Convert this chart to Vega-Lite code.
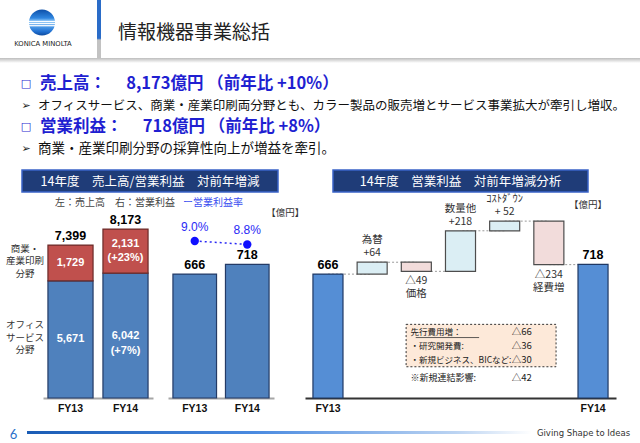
{
  "$schema": "https://vega.github.io/schema/vega-lite/v6.json",
  "padding": 0,
  "autosize": {"type": "pad"},
  "background": "white",
  "config": {"view": {"stroke": null}, "font": "Noto Sans CJK JP"},
  "datasets": {
    "brand": [{"name": "KONICA MINOLTA"}],
    "slide": [{"title": "情報機器事業総括"}],
    "bullets": [
      {"line": 1, "kind": "head", "marker": "□", "text": "売上高：　 8,173億円 （前年比 +10%）"},
      {"line": 2, "kind": "body", "marker": "➢", "text": "オフィスサービス、商業・産業印刷両分野とも、カラー製品の販売増とサービス事業拡大が牽引し増収。"},
      {"line": 3, "kind": "head", "marker": "□", "text": "営業利益：　 718億円 （前年比 +8%）"},
      {"line": 4, "kind": "body", "marker": "➢", "text": "商業・産業印刷分野の採算性向上が増益を牽引。"}
    ],
    "panels": [
      {"panel": "left", "title": "14年度　売上高/営業利益　対前年増減"},
      {"panel": "right", "title": "14年度　営業利益　対前年増減分析"}
    ],
    "captions": [
      {"part": "main", "text": "左：売上高　右：営業利益"},
      {"part": "accent", "text": "ー営業利益率"}
    ],
    "unitLabel": [{"text": "【億円】"}],
    "sales": [
      {"fy": "FY13", "segment": "オフィスサービス分野", "value": 5671, "label": "5,671", "side": "オフィス\nサービス\n分野"},
      {"fy": "FY13", "segment": "商業・産業印刷分野", "value": 1729, "label": "1,729", "side": "商業・\n産業印刷\n分野"},
      {"fy": "FY14", "segment": "オフィスサービス分野", "value": 6042, "label": "6,042\n(+7%)"},
      {"fy": "FY14", "segment": "商業・産業印刷分野", "value": 2131, "label": "2,131\n(+23%)"}
    ],
    "salesTotal": [{"fy": "FY13", "total": 7399}, {"fy": "FY14", "total": 8173}],
    "oi": [{"fy": "FY13", "oi": 666, "margin": 0.09}, {"fy": "FY14", "oi": 718, "margin": 0.088}],
    "bridge": [
      {"item": "FY13", "start": 0, "end": 666, "type": "total", "label": "666"},
      {"item": "為替", "start": 666, "end": 730, "type": "up", "label": "為替\n+64"},
      {"item": "価格", "start": 730, "end": 681, "type": "down", "label": "△49\n価格"},
      {"item": "数量他", "start": 681, "end": 899, "type": "up", "label": "数量他\n+218"},
      {"item": "コストダウン", "start": 899, "end": 951, "type": "up", "label": "ｺｽﾄﾀﾞｳﾝ\n+ 52"},
      {"item": "経費増", "start": 951, "end": 717, "type": "down", "label": "△234\n経費増"},
      {"item": "FY14", "start": 0, "end": 718, "type": "total", "label": "718"}
    ],
    "notes": [{"left": "　先行費用増：\n・研究開発費:\n・新規ビジネス、BICなど:", "right": "△66\n△36\n△30"}],
    "footnote": [{"left": "※新規連結影響:", "right": "△42"}],
    "page": [{"num": "6"}],
    "tag": [{"text": "Giving Shape to Ideas"}]
  },
  "bounds": "flush",
  "spacing": 0,
  "resolve": {"scale": {"color": "independent", "fill": "independent", "stroke": "independent"}},
  "vconcat": [
    {
      "spacing": 0,
      "bounds": "flush",
      "hconcat": [
        {
          "width": 97, "height": 58,
          "data": {"name": "brand"},
          "layer": [
            {
              "mark": {"type": "point", "shape": "circle", "filled": true, "size": 680, "opacity": 1, "strokeWidth": 0, "xOffset": -6.5, "yOffset": -6.5,
                "fill": {"gradient": "linear", "x1": 0, "y1": 0, "x2": 0, "y2": 1, "stops": [
                  {"offset": 0, "color": "#0d4fa8"}, {"offset": 0.33, "color": "#2f86e0"}, {"offset": 0.42, "color": "#7cbaf2"},
                  {"offset": 0.46, "color": "#ffffff"}, {"offset": 0.5, "color": "#8cc4f4"}, {"offset": 0.54, "color": "#ffffff"},
                  {"offset": 0.58, "color": "#6fb0ee"}, {"offset": 0.62, "color": "#ffffff"}, {"offset": 0.67, "color": "#4a98e6"},
                  {"offset": 0.85, "color": "#1f6fd0"}, {"offset": 1, "color": "#0d4a9e"}]}},
              "encoding": {}
            },
            {
              "mark": {"type": "text", "font": "DejaVu Sans", "fontSize": 6.8, "color": "#222", "dx": -5.5, "dy": 15},
              "encoding": {"text": {"field": "name"}}
            }
          ]
        },
        {
          "width": 4, "height": 58,
          "data": {"name": "brand"},
          "mark": {"type": "rect", "fill": {"gradient": "linear", "x1": 0, "y1": 0, "x2": 0, "y2": 1, "stops": [
            {"offset": 0, "color": "#2a6cc8"}, {"offset": 0.66, "color": "#2a6cc8"}, {"offset": 0.69, "color": "#c2c2c2"}, {"offset": 1, "color": "#c2c2c2"}]}},
          "encoding": {}
        },
        {
          "width": 34, "height": 58,
          "data": {"name": "slide"},
          "mark": {"type": "text", "align": "left", "baseline": "middle", "fontSize": 19, "color": "#222", "dy": 4},
          "encoding": {"text": {"field": "title"}}
        }
      ]
    },
    {"width": 1, "height": 58, "data": {"values": []}, "mark": "point", "encoding": {}},
    {
      "width": 640, "height": 5,
      "data": {"name": "brand"},
      "mark": {"type": "rect", "fill": {"gradient": "linear", "x1": 0, "y1": 0, "x2": 0, "y2": 1, "stops": [{"offset": 0, "color": "#bdbdbd"}, {"offset": 1, "color": "#ffffff"}]}},
      "encoding": {}
    },
    {
      "width": 640, "height": 107,
      "data": {"name": "bullets"},
      "encoding": {"y": {"field": "line", "type": "ordinal", "scale": {"type": "point", "domain": [1, 2, 3, 4], "padding": 1.36}, "axis": null}},
      "layer": [
        {
          "mark": {"type": "text", "font": "DejaVu Sans", "fontSize": 11, "dx": -294, "baseline": "middle"},
          "encoding": {"text": {"field": "marker"}, "color": {"field": "kind", "type": "nominal", "scale": {"domain": ["head", "body"], "range": ["#1f1fd1", "#222222"]}, "legend": null}}
        },
        {
          "transform": [{"filter": "datum.kind == 'head'"}],
          "mark": {"type": "text", "align": "left", "baseline": "middle", "dx": -280, "fontSize": 16.5, "fontWeight": "bold", "color": "#1f1fd1"},
          "encoding": {"text": {"field": "text"}}
        },
        {
          "transform": [{"filter": "datum.line == 2"}],
          "mark": {"type": "text", "align": "left", "baseline": "middle", "dx": -282, "fontSize": 12.5, "color": "#111"},
          "encoding": {"text": {"field": "text"}}
        },
        {
          "transform": [{"filter": "datum.line == 4"}],
          "mark": {"type": "text", "align": "left", "baseline": "middle", "dx": -282, "fontSize": 13.5, "color": "#111"},
          "encoding": {"text": {"field": "text"}}
        }
      ]
    },
    {
      "spacing": 0,
      "bounds": "flush",
      "hconcat": [
        {"width": 22, "height": 22, "data": {"values": []}, "mark": "point", "encoding": {}},
        {
          "width": 256, "height": 22,
          "view": {"fill": "#1f3c78", "stroke": "#3a63c8", "strokeWidth": 1.5},
          "data": {"name": "panels"},
          "transform": [{"filter": "datum.panel == 'left'"}],
          "mark": {"type": "text", "color": "white", "fontSize": 12.5, "dy": 0.5},
          "encoding": {"text": {"field": "title"}}
        },
        {"width": 55, "height": 22, "data": {"values": []}, "mark": "point", "encoding": {}},
        {
          "width": 255, "height": 22,
          "view": {"fill": "#1f3c78", "stroke": "#3a63c8", "strokeWidth": 1.5},
          "data": {"name": "panels"},
          "transform": [{"filter": "datum.panel == 'right'"}],
          "mark": {"type": "text", "color": "white", "fontSize": 12.5, "dy": 0.5},
          "encoding": {"text": {"field": "title"}}
        }
      ]
    },
    {"width": 1, "height": 22, "data": {"values": []}, "mark": "point", "encoding": {}},
    {
      "width": 300, "height": 20,
      "data": {"name": "captions"},
      "layer": [
        {
          "transform": [{"filter": "datum.part == 'main'"}],
          "mark": {"type": "text", "align": "right", "dx": 25, "dy": 1, "fontSize": 10, "color": "#444"},
          "encoding": {"text": {"field": "text"}}
        },
        {
          "transform": [{"filter": "datum.part == 'accent'"}],
          "mark": {"type": "text", "align": "left", "dx": 33, "dy": 1, "fontSize": 10, "color": "#3b4ef0"},
          "encoding": {"text": {"field": "text"}}
        }
      ]
    },
    {
      "spacing": 0,
      "bounds": "flush",
      "resolve": {"scale": {"color": "independent", "fill": "independent", "stroke": "independent"}},
      "hconcat": [
        {"width": 43, "height": 186, "data": {"values": []}, "mark": "point", "encoding": {}},
        {
          "width": 110, "height": 186,
          "data": {"name": "sales"},
          "encoding": {"x": {"field": "fy", "type": "nominal", "scale": {"paddingInner": 0.18, "paddingOuter": 0.09},
            "axis": {"title": null, "ticks": false, "grid": false, "labelAngle": 0, "domainColor": "#a6a6a6", "domainWidth": 2, "labelFont": "Liberation Sans", "labelFontWeight": "bold", "labelFontSize": 10.5, "labelColor": "#111", "labelPadding": 5}}},
          "layer": [
            {
              "mark": {"type": "bar", "strokeWidth": 1.2},
              "encoding": {
                "y": {"field": "value", "type": "quantitative", "stack": "zero", "scale": {"domain": [0, 8890]}, "axis": null},
                "color": {"field": "segment", "type": "nominal", "scale": {"domain": ["オフィスサービス分野", "商業・産業印刷分野"], "range": ["#4f81bd", "#c0504d"]}, "legend": null},
                "stroke": {"field": "segment", "type": "nominal", "scale": {"domain": ["オフィスサービス分野", "商業・産業印刷分野"], "range": ["#243b66", "#6b2a28"]}, "legend": null},
                "order": {"field": "segment", "sort": "ascending"}
              }
            },
            {
              "transform": [{"filter": "!(datum.fy == 'FY14' && datum.segment == '商業・産業印刷分野')"}],
              "mark": {"type": "text", "color": "white", "fontWeight": "bold", "fontSize": 11, "font": "Liberation Sans", "lineBreak": "\n", "lineHeight": 15, "baseline": "middle"},
              "encoding": {
                "y": {"field": "value", "type": "quantitative", "stack": "zero", "bandPosition": 0.5},
                "detail": {"field": "segment"},
                "order": {"field": "segment", "sort": "ascending"},
                "text": {"field": "label"}
              }
            },
            {
              "transform": [
                {"stack": "value", "groupby": ["fy"], "sort": [{"field": "segment", "order": "ascending"}], "as": ["v0", "v1"]},
                {"filter": "datum.fy == 'FY14' && datum.segment == '商業・産業印刷分野'"}
              ],
              "mark": {"type": "text", "color": "white", "fontWeight": "bold", "fontSize": 11, "font": "Liberation Sans", "lineBreak": "\n", "lineHeight": 14, "baseline": "middle", "dy": 15},
              "encoding": {
                "y": {"field": "v1", "type": "quantitative"},
                "text": {"field": "label"}
              }
            },
            {
              "transform": [{"filter": "datum.fy == 'FY13'"}],
              "mark": {"type": "text", "dx": -45.5, "dy": -14, "fontSize": 9.5, "color": "#333", "lineBreak": "\n", "lineHeight": 12.5, "baseline": "middle"},
              "encoding": {
                "y": {"field": "value", "type": "quantitative", "stack": "zero", "bandPosition": 0.5},
                "detail": {"field": "segment"},
                "order": {"field": "segment", "sort": "ascending"},
                "text": {"field": "side"}
              }
            },
            {
              "data": {"name": "salesTotal"},
              "mark": {"type": "text", "baseline": "bottom", "dy": -2, "fontWeight": "bold", "fontSize": 12.5, "font": "Liberation Sans", "color": "#000"},
              "encoding": {
                "y": {"field": "total", "type": "quantitative"},
                "text": {"field": "total", "type": "quantitative", "format": ","}
              }
            }
          ]
        },
        {"width": 15, "height": 186, "data": {"values": []}, "mark": "point", "encoding": {}},
        {
          "width": 106, "height": 186,
          "data": {"name": "oi"},
          "encoding": {"x": {"field": "fy", "type": "nominal", "scale": {"paddingInner": 0.17, "paddingOuter": 0.094},
            "axis": {"title": null, "ticks": false, "grid": false, "labelAngle": 0, "domainColor": "#a6a6a6", "domainWidth": 2, "labelFont": "Liberation Sans", "labelFontWeight": "bold", "labelFontSize": 10.5, "labelColor": "#111", "labelPadding": 5}}},
          "layer": [
            {
              "mark": {"type": "bar", "color": "#4f81bd", "stroke": "#243b66", "strokeWidth": 1.2},
              "encoding": {"y": {"field": "oi", "type": "quantitative", "scale": {"domain": [0, 1000]}, "axis": null}}
            },
            {
              "mark": {"type": "text", "baseline": "bottom", "dy": -2, "fontWeight": "bold", "fontSize": 12.5, "font": "Liberation Sans", "color": "#000"},
              "encoding": {"y": {"field": "oi", "type": "quantitative", "scale": {"domain": [0, 1000]}, "axis": null}, "text": {"field": "oi", "type": "quantitative", "format": "d"}}
            },
            {
              "mark": {"type": "line", "color": "#2a2af5", "strokeDash": [2, 3], "strokeWidth": 1.5},
              "encoding": {"y": {"field": "margin", "type": "quantitative", "scale": {"domain": [0, 0.1066]}, "axis": null}}
            },
            {
              "mark": {"type": "point", "filled": true, "size": 70, "color": "#1010ff", "opacity": 1},
              "encoding": {"y": {"field": "margin", "type": "quantitative", "scale": {"domain": [0, 0.1066]}, "axis": null}}
            },
            {
              "mark": {"type": "text", "baseline": "bottom", "dy": -7, "fontSize": 12, "font": "Liberation Sans", "color": "#2a2af5"},
              "encoding": {"y": {"field": "margin", "type": "quantitative", "scale": {"domain": [0, 0.1066]}, "axis": null}, "text": {"field": "margin", "type": "quantitative", "format": ".1%"}}
            },
            {
              "data": {"name": "unitLabel"},
              "mark": {"type": "text", "baseline": "middle", "dx": 38, "fontSize": 9.5, "color": "#333"},
              "encoding": {
                "x": {"datum": "FY14"},
                "y": {"datum": 995, "type": "quantitative", "scale": {"domain": [0, 1000]}, "axis": null},
                "text": {"field": "text"}
              }
            }
          ],
          "resolve": {"scale": {"y": "independent"}}
        },
        {"width": 31, "height": 186, "data": {"values": []}, "mark": "point", "encoding": {}},
        {
          "width": 311, "height": 186,
          "data": {"name": "bridge"},
          "encoding": {"x": {"field": "item", "type": "nominal",
            "scale": {"domain": ["FY13", "為替", "価格", "数量他", "コストダウン", "経費増", "FY14"], "paddingInner": 0.32, "paddingOuter": 0.18},
            "axis": {"title": null, "ticks": false, "grid": false, "labelAngle": 0, "domainColor": "#333", "domainWidth": 2, "labelFont": "Liberation Sans", "labelFontWeight": "bold", "labelFontSize": 10.5, "labelColor": "#111", "labelPadding": 5,
              "labelExpr": "datum.value == 'FY13' || datum.value == 'FY14' ? datum.value : ''"}}},
          "layer": [
            {
              "mark": {"type": "line", "interpolate": "step-after", "color": "#999", "strokeDash": [2, 2], "strokeWidth": 1},
              "encoding": {"y": {"field": "end", "type": "quantitative", "scale": {"domain": [0, 1000]}, "axis": null}, "order": {"value": null}}
            },
            {
              "mark": {"type": "bar", "strokeWidth": 1.2},
              "encoding": {
                "y": {"field": "start", "type": "quantitative"},
                "y2": {"field": "end"},
                "fill": {"field": "type", "type": "nominal", "scale": {"domain": ["total", "up", "down"], "range": ["#558ed5", "#dbeef4", "#f2dcdb"]}, "legend": null},
                "stroke": {"field": "type", "type": "nominal", "scale": {"domain": ["total", "up", "down"], "range": ["#1f3864", "#4d4d4d", "#4d4d4d"]}, "legend": null}
              }
            },
            {
              "transform": [{"filter": "datum.type == 'total'"}],
              "mark": {"type": "text", "baseline": "bottom", "dy": -2, "fontWeight": "bold", "fontSize": 12.5, "font": "Liberation Sans", "color": "#000"},
              "encoding": {"y": {"field": "end", "type": "quantitative"}, "text": {"field": "label"}}
            },
            {
              "transform": [{"filter": "datum.type == 'up'"}],
              "mark": {"type": "text", "baseline": "bottom", "dy": -17, "fontSize": 10.5, "color": "#333", "lineBreak": "\n", "lineHeight": 13},
              "encoding": {"y": {"field": "end", "type": "quantitative"}, "text": {"field": "label"}}
            },
            {
              "transform": [{"filter": "datum.type == 'down'"}],
              "mark": {"type": "text", "baseline": "top", "dy": 5, "fontSize": 10.5, "color": "#333", "lineBreak": "\n", "lineHeight": 13},
              "encoding": {"y": {"field": "end", "type": "quantitative"}, "text": {"field": "label"}}
            },
            {
              "data": {"name": "unitLabel"},
              "mark": {"type": "text", "baseline": "middle", "dx": -5, "fontSize": 9.5, "color": "#333"},
              "encoding": {"x": {"datum": "FY14"}, "y": {"datum": 1037}, "text": {"field": "text"}}
            },
            {
              "data": {"name": "notes"},
              "mark": {"type": "rect", "fill": "#fde9d9", "stroke": "#333", "strokeDash": [2, 2], "strokeWidth": 1},
              "encoding": {
                "x": {"datum": "価格", "bandPosition": 0.16},
                "x2": {"datum": "経費増", "bandPosition": 0.74},
                "y": {"datum": 396},
                "y2": {"datum": 168}
              }
            },
            {
              "data": {"name": "notes"},
              "mark": {"type": "rule", "color": "#333", "strokeWidth": 0.8},
              "encoding": {
                "x": {"datum": "価格", "bandPosition": 0.48},
                "x2": {"datum": "数量他", "bandPosition": 1.12},
                "y": {"datum": 325}
              }
            },
            {
              "data": {"name": "notes"},
              "mark": {"type": "text", "align": "left", "baseline": "middle", "fontSize": 8.5, "color": "#222", "lineBreak": "\n", "lineHeight": 13.8},
              "encoding": {"x": {"datum": "価格", "bandPosition": 0.31}, "y": {"datum": 353}, "text": {"field": "left"}}
            },
            {
              "data": {"name": "notes"},
              "mark": {"type": "text", "align": "right", "baseline": "middle", "dx": -2, "fontSize": 9.5, "color": "#222", "lineBreak": "\n", "lineHeight": 13.8},
              "encoding": {"x": {"datum": "経費増", "bandPosition": 0}, "y": {"datum": 353}, "text": {"field": "right"}}
            },
            {
              "data": {"name": "footnote"},
              "mark": {"type": "text", "align": "left", "baseline": "middle", "fontSize": 9, "color": "#222"},
              "encoding": {"x": {"datum": "価格", "bandPosition": 0.31}, "y": {"datum": 109}, "text": {"field": "left"}}
            },
            {
              "data": {"name": "footnote"},
              "mark": {"type": "text", "align": "right", "baseline": "middle", "dx": -2, "fontSize": 9.5, "color": "#222"},
              "encoding": {"x": {"datum": "経費増", "bandPosition": 0}, "y": {"datum": 109}, "text": {"field": "right"}}
            }
          ]
        }
      ]
    },
    {"width": 1, "height": 219, "data": {"values": []}, "mark": "point", "encoding": {}},
    {
      "spacing": 0,
      "bounds": "flush",
      "hconcat": [
        {
          "width": 27, "height": 3,
          "data": {"name": "page"},
          "mark": {"type": "text", "fontSize": 13, "font": "Lato", "color": "#2a6fc9", "dy": 2},
          "encoding": {"text": {"field": "num"}}
        },
        {
          "width": 505, "height": 3,
          "data": {"name": "page"},
          "mark": {"type": "rect", "fill": {"gradient": "linear", "x1": 0, "y1": 0, "x2": 1, "y2": 0, "stops": [
            {"offset": 0, "color": "#1a5cb5"}, {"offset": 0.45, "color": "#4a8ae0"}, {"offset": 0.85, "color": "#bcd4f2"}, {"offset": 1, "color": "#ffffff"}]}},
          "encoding": {}
        },
        {
          "width": 108, "height": 3,
          "data": {"name": "tag"},
          "mark": {"type": "text", "fontSize": 8.5, "font": "DejaVu Sans", "color": "#333", "dx": -2.5, "dy": 0.5},
          "encoding": {"text": {"field": "text"}}
        }
      ]
    },
    {"width": 1, "height": 3, "data": {"values": []}, "mark": "point", "encoding": {}}
  ]
}
